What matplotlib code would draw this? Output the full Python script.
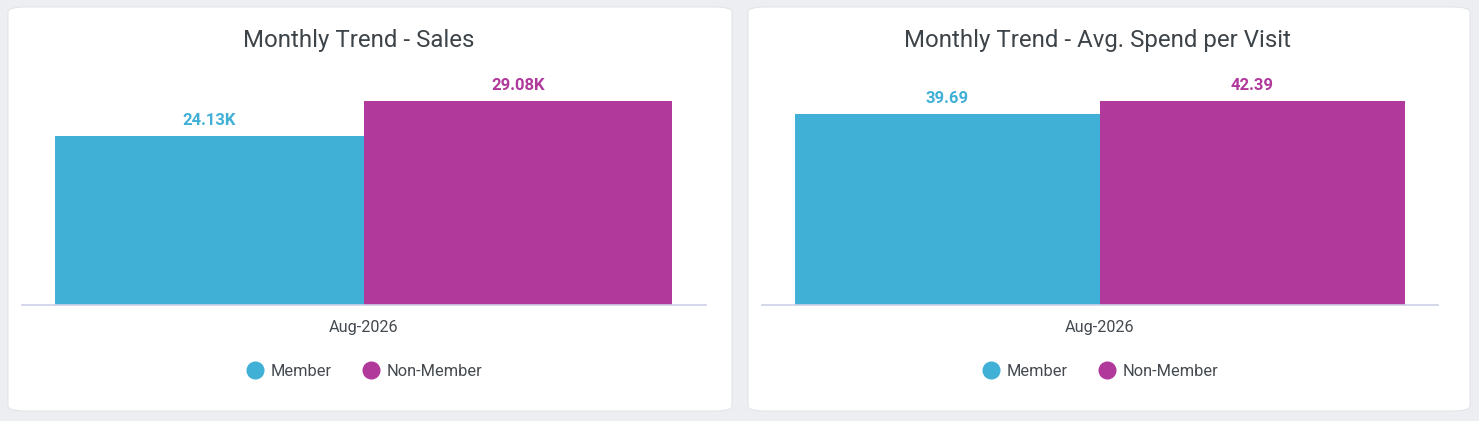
import matplotlib.pyplot as plt
from matplotlib.patches import FancyBboxPatch
from matplotlib.lines import Line2D

plt.rcParams['font.family'] = ['Roboto', 'DejaVu Sans']

month = 'Aug-2026'
series = ['Member', 'Non-Member']
colors = ['#40b0d6', '#b0399b']

sales = [24.13, 29.08]
sales_labels = ['24.13K', '29.08K']
spend = [39.69, 42.39]
spend_labels = ['39.69', '42.39']

W, H = 1479, 421
fig = plt.figure(figsize=(W / 100, H / 100), dpi=100)
fig.patch.set_facecolor('#eceef1')

def px(x0, y0, x1, y1):
    # pixel box (top-left origin) -> figure fraction
    return [x0 / W, 1 - y1 / H, (x1 - x0) / W, (y1 - y0) / H]

def card(x0, y0, x1, y1):
    b = px(x0, y0, x1, y1)
    fig.patches.append(FancyBboxPatch((b[0], b[1]), b[2], b[3],
                                      boxstyle='round,pad=0,rounding_size=0.012',
                                      transform=fig.transFigure, facecolor='white',
                                      edgecolor='#e3e5e8', linewidth=0.8, zorder=-5))

def panel(cx0, cx1, ax0, ax1, b0, b1, vals, labels, title):
    card(cx0, 7, cx1, 411)
    fig.text(((cx0 + cx1) / 2 - 11) / W, 1 - 40 / H, title, ha='center', va='center',
             fontsize=17.3, color='#3d4449')
    top, base = 60, 305
    ax = fig.add_axes(px(ax0, top, ax1, base))
    ax.set_facecolor('none')
    width = (b1 - b0) / 2
    xs = [b0 + width / 2, b0 + 1.5 * width]
    ax.bar(xs, vals, width=width, color=colors, linewidth=0)
    ax.set_xlim(ax0, ax1)
    ax.set_ylim(0, max(vals) * (base - top) / 204)
    for x, v, lab, c in zip(xs, vals, labels, colors):
        ax.annotate(lab, (x, v), xytext=(0, 5.5), textcoords='offset points',
                    ha='center', va='bottom', fontsize=12, fontweight='bold', color=c)
    ax.set_xticks([b0 + width])
    ax.set_xticklabels([month], fontsize=11.7, color='#444a4f')
    ax.tick_params(axis='x', length=0, pad=10.5)
    ax.set_yticks([])
    for s in ['top', 'left', 'right']:
        ax.spines[s].set_visible(False)
    ax.spines['bottom'].set_color('#cdd0e6')
    ax.spines['bottom'].set_linewidth(1.2)
    handles = [Line2D([], [], marker='o', linestyle='', markersize=12,
                      markerfacecolor=c, markeredgecolor=c) for c in colors]
    leg = ax.legend(handles, series, loc='center', bbox_to_anchor=(0.5, -0.27),
                    ncol=2, frameon=False, fontsize=11.8, handletextpad=0.35,
                    columnspacing=1.8, handlelength=1.2)
    for t in leg.get_texts():
        t.set_color('#444a4f')

panel(8, 732, 22, 706, 55, 672, sales, sales_labels, 'Monthly Trend - Sales')
panel(748, 1470, 762, 1438, 795, 1405, spend, spend_labels, 'Monthly Trend - Avg. Spend per Visit')

fig.savefig('out.png', dpi=100, facecolor=fig.get_facecolor())
